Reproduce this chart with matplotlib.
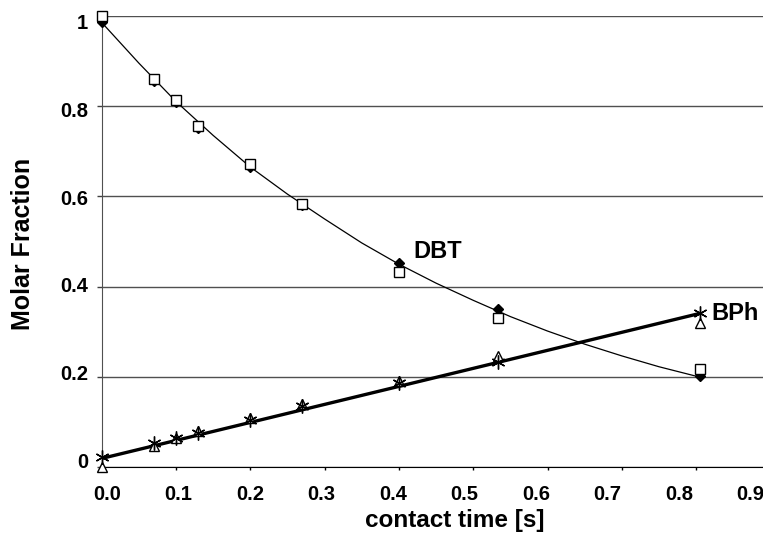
import numpy as np
import matplotlib
matplotlib.use("Agg")
import matplotlib.pyplot as plt
from matplotlib.transforms import ScaledTranslation

plt.rcParams['font.family'] = ['Liberation Sans', 'DejaVu Sans']
plt.rcParams['font.weight'] = 'bold'

# contact times [s]
t_exp = [0.0, 0.07, 0.1, 0.13, 0.2, 0.27, 0.4, 0.533, 0.805]

# DBT measurements (two runs)
dbt_diamond = [0.985, 0.855, 0.808, 0.752, 0.665, 0.58, 0.453, 0.351, 0.202]
dbt_square = [1.0, 0.859, 0.813, 0.756, 0.671, 0.583, 0.433, 0.331, 0.217]

# BPh measurements (two runs)
bph_star = [0.024, 0.054, 0.065, 0.077, 0.105, 0.136, 0.186, 0.234, 0.341]
bph_tri = [0.0, 0.048, 0.066, 0.08, 0.11, 0.14, 0.192, 0.247, 0.319]

# model curve for DBT
t_curve = [0.0, 0.05, 0.1, 0.15, 0.2, 0.25, 0.3, 0.35, 0.4, 0.45,
           0.5, 0.55, 0.6, 0.65, 0.7, 0.75, 0.805]
dbt_curve = [0.985, 0.895, 0.81, 0.735, 0.665, 0.605, 0.55, 0.497, 0.45, 0.408,
             0.37, 0.334, 0.302, 0.273, 0.247, 0.223, 0.2]

# straight fit for BPh
t_line = [0.0, 0.805]
bph_line = [0.02, 0.341]

xticks = [0.0, 0.1, 0.2, 0.3, 0.4, 0.5, 0.6, 0.7, 0.8, 0.9]
xtick_labels = ['0.0', '0.1', '0.2', '0.3', '0.4', '0.5', '0.6', '0.7', '0.8', '0.9']
yticks = [0, 0.2, 0.4, 0.6, 0.8, 1.0]
ytick_labels = ['0', '0.2', '0.4', '0.6', '0.8', '1']

fig = plt.figure(figsize=(7.63, 5.35), dpi=100)
ax = fig.add_axes([0.1333, 0.1262, 0.8764, 0.8445])

ax.plot(t_curve, dbt_curve, color='black', lw=0.9, zorder=3)
ax.plot(t_line, bph_line, color='black', lw=2.4, zorder=3)

ax.plot(t_exp, dbt_diamond, ls='none', marker='D', ms=5, color='black',
        zorder=4, clip_on=False)
ax.plot(t_exp, dbt_square, ls='none', marker='s', ms=7.5, mfc='white',
        mec='black', mew=1.0, zorder=5, clip_on=False)
ax.plot(t_exp, bph_tri, ls='none', marker='^', ms=7.5, mfc='white',
        mec='black', mew=1.0, zorder=5, clip_on=False)
ax.plot(t_exp, bph_star, ls='none', marker=(6, 2, 0), ms=10, color='black',
        mew=1.0, zorder=6, clip_on=False)

ax.text(0.42, 0.477, 'DBT', fontsize=17, fontweight='bold', va='center', ha='left')
ax.text(0.82, 0.34, 'BPh', fontsize=17, fontweight='bold', va='center', ha='left')

ax.set_xticks(xticks)
ax.set_xticklabels(xtick_labels)
ax.set_yticks(yticks)
ax.set_yticklabels(ytick_labels)
ax.set_xlim(0, 0.9)
ax.set_ylim(0, 1)

ax.tick_params(axis='x', direction='out', length=2.5, width=1, pad=10,
               labelsize=14.5)
ax.tick_params(axis='y', direction='out', length=3.6, width=1, pad=6,
               labelsize=14.5, color='#404040')

# the labels in the original are spread a bit tighter than the ticks
for k, lab in enumerate(ax.get_xticklabels()):
    dx = (5.3 - 2.83 * k) / 100
    lab.set_transform(lab.get_transform() + ScaledTranslation(dx, 0, fig.dpi_scale_trans))
for k, lab in enumerate(ax.get_yticklabels()):
    dy = (7.2 - 2.7 * k) / 100
    lab.set_transform(lab.get_transform() + ScaledTranslation(0, dy, fig.dpi_scale_trans))

ax.yaxis.grid(True, color='#505050', lw=1)
ax.set_axisbelow(True)
for s in ['top', 'right']:
    ax.spines[s].set_visible(False)
ax.spines['left'].set_color('#505050')
ax.spines['bottom'].set_color('black')

fig.text(455 / 763, 1 - 521 / 535, 'contact time [s]', fontsize=17.5,
         fontweight='bold', ha='center', va='center')
fig.text(23 / 763, 1 - 244 / 535, 'Molar Fraction', fontsize=18,
         fontweight='bold', ha='center', va='center', rotation=90)

fig.savefig('out.png', dpi=100, facecolor='white')
